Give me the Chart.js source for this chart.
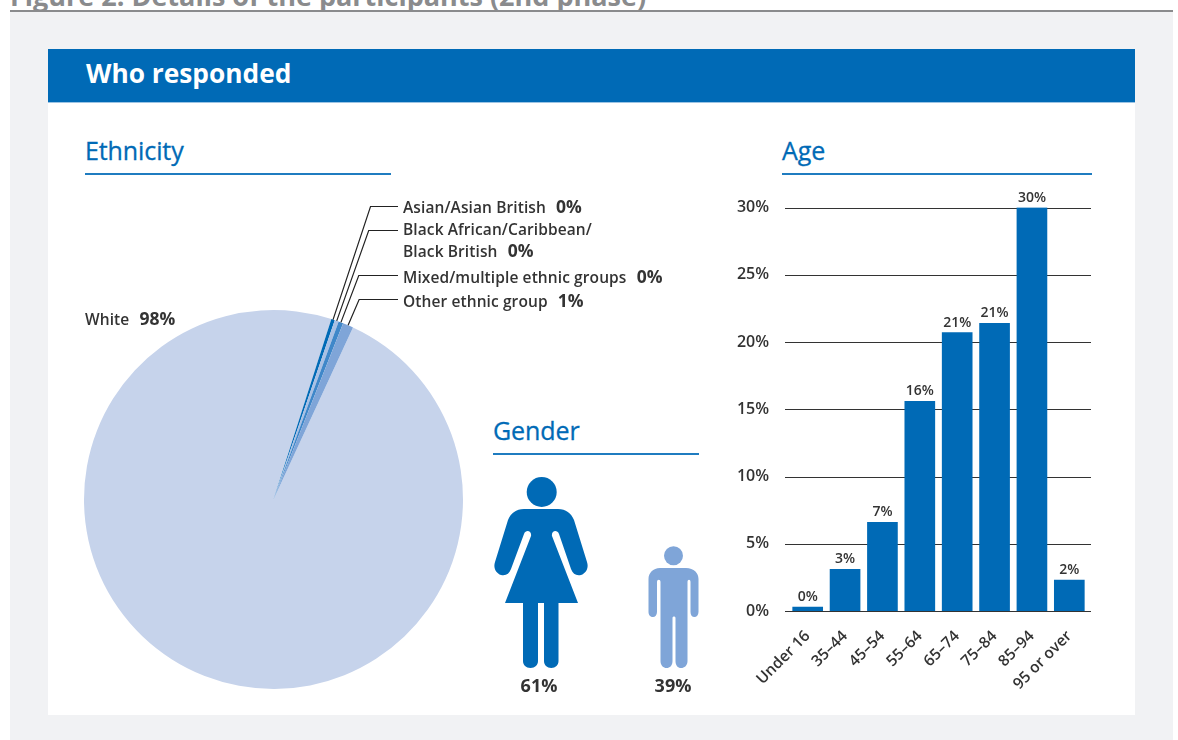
<!DOCTYPE html>
<html>
<head>
<meta charset="utf-8">
<title>Who responded</title>
<script src="https://cdn.jsdelivr.net/npm/chart.js@4"></script>
<style>
  html, body { margin: 0; padding: 0; background: #fff; }
  body { width: 1178px; height: 740px; position: relative; overflow: hidden; font-family: "Open Sans", sans-serif; color: #333; }
  .abs { position: absolute; white-space: nowrap; }
  .panel { position: absolute; left: 10px; top: 10px; width: 1163px; height: 730px; background: #f1f2f4; border-top: 2px solid #8a8b8d; box-sizing: border-box; }
  .figtitle { left: 10px; top: -19px; font-size: 27px; font-weight: 700; color: #8a8b8d; line-height: 30px; }
  .card { position: absolute; left: 48px; top: 102px; width: 1087px; height: 613px; background: #fff; border-top: 1px solid #9cc4e4; box-sizing: border-box; }
  .banner { position: absolute; left: 48px; top: 49px; width: 1087px; height: 53px; background: #006ab6; color: #fff; font-weight: 700; font-size: 26.300px; line-height: 49px; box-sizing: border-box; padding-left: 38px; }
  .head { color: #006ab6; font-size: 25px; font-weight: 400; line-height: 30px; letter-spacing: -0.1px; -webkit-text-stroke: 0.3px #006ab6; }
  .rule { position: absolute; height: 2px; background: #1f7cc0; }
  .lab { font-size: 15.500px; font-weight: 600; line-height: 20px; color: #333; letter-spacing: 0.1px; }
  .lab b { margin-left: 6px; font-size: 17.500px; font-weight: 700; letter-spacing: 0; }
  .pct { font-size: 18px; font-weight: 700; color: #333; transform: translateX(-50%); }
  canvas { position: absolute; }
  #iconWoman, #iconMan { position: absolute; }
</style>
</head>
<body>
<div class="abs figtitle">Figure 2: Details of the participants (2nd phase)</div>
<div class="panel"></div>
<div class="card"></div>
<div class="banner">Who responded</div>

<div class="abs head" style="left:85px;top:135px">Ethnicity</div>
<div class="rule" style="left:85px;top:173px;width:306px"></div>
<div class="abs head" style="left:493px;top:415px">Gender</div>
<div class="rule" style="left:493px;top:453px;width:206px"></div>
<div class="abs head" style="left:782px;top:135px">Age</div>
<div class="rule" style="left:782px;top:173px;width:310px"></div>

<div style="position:absolute;left:48px;top:190px;width:640px;height:500px"><canvas id="pieChart"></canvas></div>
<div style="position:absolute;left:700px;top:186px;width:420px;height:514px"><canvas id="ageChart"></canvas></div>

<div class="abs lab" id="whiteLabel" style="left:85px;top:308px"></div>
<div class="abs lab" id="lab1" style="left:403px;top:196px"></div>
<div class="abs lab" id="lab2" style="left:403px;top:219px;line-height:21px"></div>
<div class="abs lab" id="lab3" style="left:403px;top:266px"></div>
<div class="abs lab" id="lab4" style="left:403px;top:290px"></div>

<svg id="iconWoman" viewBox="0 0 94 191" preserveAspectRatio="none" style="left:494px">
  <circle cx="47.700" cy="15" r="15" fill="#006ab6"/>
  <path fill="#006ab6" d="M30 32 H64 C72 32 77 36 80 43 L93 85 C95 91 92 96 87 98 C82 99 79 97 77 92 L65 57 C63 52 57 54 58 59 L84 126 H11 L37 59 C38 54 32 52 30 57 L17 92 C15 97 12 99 7 98 C2 96 -1 91 1 85 L14 43 C17 36 22 32 30 32 Z"/>
  <path fill="#006ab6" d="M29 126 H44 V184 C44 188 41 191 36.500 191 C32 191 29 188 29 184 Z M50 126 H64.500 V184 C64.500 188 61.500 191 57.300 191 C53 191 50 188 50 184 Z"/>
</svg>
<svg id="iconMan" viewBox="0 0 52 122" preserveAspectRatio="none" style="left:648px">
  <circle cx="25.500" cy="9.700" r="9.500" fill="#7fa5d8"/>
  <path fill="#7fa5d8" d="M12 22 H38 C46 22 50.500 27 50.500 33 V66 C50.500 69 48.500 71 46.500 71 C44 71 42.500 69 42.500 66 V36 C42.500 33 39.500 33 39.500 36 V115 C39.500 119 37 122 33 122 C29.500 122 27.500 119 27.500 115 V72 C27.500 70 24.500 70 24.500 72 V115 C24.500 119 22.500 122 18.500 122 C15 122 12.500 119 12.500 115 V36 C12.500 33 9 33 9 36 V66 C9 69 7 71 5 71 C2.500 71 0.500 69 0.500 66 V33 C0.500 27 5 22 12 22 Z"/>
</svg>
<div class="abs pct" id="pctWoman" style="left:539px;top:673px"></div>
<div class="abs pct" id="pctMan" style="left:673px;top:673px"></div>

<script>
const ethnicLabels = ['White', 'Asian/Asian British', 'Black African/Caribbean/', 'Mixed/multiple ethnic groups', 'Other ethnic group'];
const ethnicValues = [98.05, 0.3, 0.35, 0.4, 0.9];
const ethnicShown = ['98%', '0%', '0%', '0%', '1%'];
const ethnicColors = ['#c6d3eb', '#006ab6', '#a9c0e4', '#3f87c9', '#7fa5d8'];

const genderLabels = ['Female', 'Male'];
const genderValues = [61, 39];

const ageLabels = ['Under 16', '35–44', '45–54', '55–64', '65–74', '75–84', '85–94', '95 or over'];
const ageValues = [0.3, 3.1, 6.6, 15.6, 20.7, 21.4, 30, 2.3];
const ageTicks = [0, 5, 10, 15, 20, 25, 30];

const fontName = '"Open Sans", sans-serif';
const textColor = '#333333';

// text around the pie
document.getElementById('whiteLabel').innerHTML = `${ethnicLabels[0]} <b>${ethnicShown[0]}</b>`;
document.getElementById('lab1').innerHTML = `${ethnicLabels[1]} <b>${ethnicShown[1]}</b>`;
document.getElementById('lab2').innerHTML = `${ethnicLabels[2]}<br>Black British <b>${ethnicShown[2]}</b>`;
document.getElementById('lab3').innerHTML = `${ethnicLabels[3]} <b>${ethnicShown[3]}</b>`;
document.getElementById('lab4').innerHTML = `${ethnicLabels[4]} <b>${ethnicShown[4]}</b>`;

// gender icons are scaled by their value, feet on the same line
const iconBase = 668;
const iconScale = 191 / genderValues[0];
[['iconWoman', 94, genderValues[0]], ['iconMan', 52, genderValues[1]]].forEach(([id, w, v]) => {
  const el = document.getElementById(id);
  const h = v * iconScale;
  el.style.width = w + 'px';
  el.style.height = h + 'px';
  el.style.top = (iconBase - h) + 'px';
});
document.getElementById('pctWoman').textContent = genderValues[0] + '%';
document.getElementById('pctMan').textContent = genderValues[1] + '%';

// elbow y of each leader line, in canvas pixels (canvas top is 190)
const leaderElbows = [16, 40, 85, 109];
const leaderEnd = 350;

const leaderLines = {
  id: 'leaderLines',
  afterDatasetsDraw(chart) {
    const { ctx } = chart;
    const arcs = chart.getDatasetMeta(0).data;
    ctx.save();
    ctx.strokeStyle = '#222';
    ctx.lineWidth = 1.2;
    leaderElbows.forEach((elbowY, i) => {
      const arc = arcs[i + 1];
      const mid = (arc.startAngle + arc.endAngle) / 2;
      const x0 = arc.x + Math.cos(mid) * arc.outerRadius;
      const y0 = arc.y + Math.sin(mid) * arc.outerRadius;
      // keep going along the radius direction until the elbow height
      const dx = Math.cos(mid), dy = Math.sin(mid);
      const t = (elbowY + 0.5 - y0) / dy;
      ctx.beginPath();
      ctx.moveTo(x0, y0);
      ctx.lineTo(x0 + dx * t, elbowY + 0.5);
      ctx.lineTo(leaderEnd, elbowY + 0.5);
      ctx.stroke();
    });
    ctx.restore();
  }
};

new Chart(document.getElementById('pieChart'), {
  type: 'pie',
  data: {
    labels: ethnicLabels,
    datasets: [{ data: ethnicValues, backgroundColor: ethnicColors, borderWidth: 0 }]
  },
  options: {
    responsive: true,
    maintainAspectRatio: false,
    animation: false,
    rotation: 24.8,
    layout: { padding: { left: 36, top: 120, right: 225, bottom: 1 } },
    plugins: { legend: { display: false }, tooltip: { enabled: false } }
  },
  plugins: [leaderLines]
});

// grid lines run a little past the plot on both sides
const ageGrid = {
  id: 'ageGrid',
  beforeDatasetsDraw(chart) {
    const { ctx, chartArea, scales } = chart;
    ctx.save();
    ctx.strokeStyle = '#333333';
    ctx.lineWidth = 1.2;
    ageTicks.forEach(t => {
      const y = Math.round(scales.y.getPixelForValue(t)) + 0.5;
      ctx.beginPath();
      ctx.moveTo(chartArea.left - 4, y);
      ctx.lineTo(chartArea.right + 3, y);
      ctx.stroke();
    });
    ctx.restore();
  }
};

const ageValueLabels = {
  id: 'ageValueLabels',
  afterDatasetsDraw(chart) {
    const { ctx } = chart;
    ctx.save();
    ctx.fillStyle = textColor;
    ctx.font = `600 14px ${fontName}`;
    ctx.textAlign = 'center';
    ctx.textBaseline = 'bottom';
    chart.getDatasetMeta(0).data.forEach((bar, i) => {
      ctx.fillText(Math.round(ageValues[i]) + '%', bar.x, bar.y - 3);
    });
    ctx.restore();
  }
};

new Chart(document.getElementById('ageChart'), {
  type: 'bar',
  data: {
    labels: ageLabels,
    datasets: [{ data: ageValues, backgroundColor: '#006ab6', barThickness: 30 }]
  },
  options: {
    responsive: true,
    maintainAspectRatio: false,
    animation: false,
    layout: { padding: { left: 0, top: 1, right: 32, bottom: 0 } },
    plugins: { legend: { display: false }, tooltip: { enabled: false } },
    scales: {
      x: {
        grid: { display: false },
        border: { display: false },
        afterFit(scale) { scale.height = 89; },
        ticks: {
          color: textColor,
          font: { family: fontName, size: 15.5, weight: '600' },
          maxRotation: 45,
          minRotation: 45,
          padding: 8,
          autoSkip: false
        }
      },
      y: {
        min: 0,
        max: 30,
        grid: { display: false },
        border: { display: false },
        afterFit(scale) { scale.width = 89; },
        afterBuildTicks(scale) { scale.ticks = ageTicks.map(v => ({ value: v })); },
        ticks: {
          color: textColor,
          font: { family: fontName, size: 16, weight: '600' },
          padding: 12,
          callback: v => v + '%'
        }
      }
    }
  },
  plugins: [ageGrid, ageValueLabels]
});
</script>
</body>
</html>
